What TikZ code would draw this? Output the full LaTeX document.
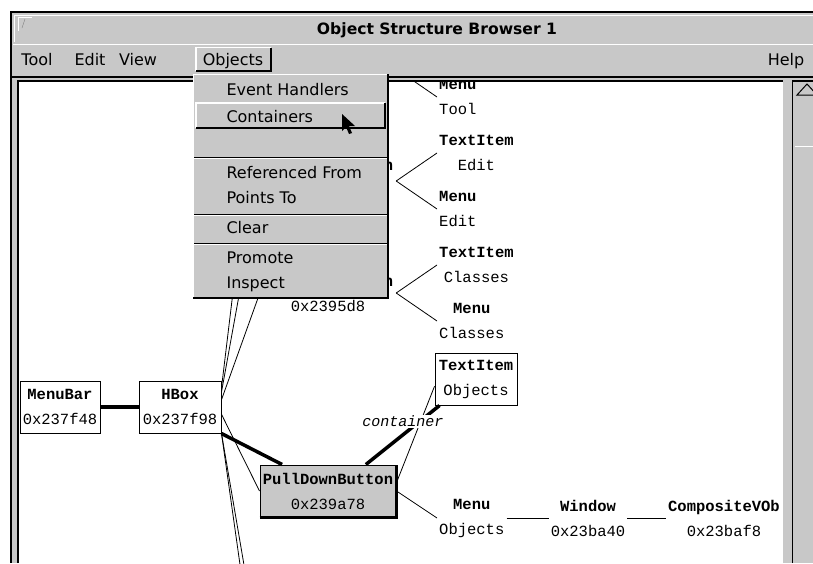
\documentclass[tikz,border=0pt]{standalone}
\usepackage{fontspec}
\setmonofont{Liberation Mono}
\newfontfamily\uifont{DejaVu Sans}
\usetikzlibrary{positioning}
\definecolor{motif}{RGB}{200,200,200}

\begin{document}
\begin{tikzpicture}[x=1pt, y=-1pt,
		obj/.style={align=center, inner xsep=2pt, inner ysep=1pt, font=\ttfamily\fontsize{15.5}{25}\selectfont},
		objbox/.style={obj, draw, fill=white, line width=1pt, minimum height=52pt},
		pdb/.style={obj, minimum width=136pt},
		uitext/.style={font=\uifont\fontsize{16}{19}\selectfont},
		baritem/.style={uitext, anchor=base},
		menuitem/.style={uitext, anchor=base west},
		etch/.style={line width=1pt},
		link/.style={line width=0.8pt},
		cont/.style={line width=3.5pt}]
	\useasboundingbox (0,0) rectangle (813,563);

	% window frame and title bar
	\fill[white] (0,0) rectangle (813,563);
	\fill[motif] (11,12) rectangle (813,563);
	\draw[line width=2pt] (11,563) -- (11,12) -- (813,12);
	\draw[white, etch] (14,42) -- (14,15) -- (813,15);
	\draw[white, etch] (18,31) -- (18,17) -- (32,17);
	\draw[gray] (22,28) -- (25,19);
	\node[uitext, font=\uifont\bfseries\fontsize{15.6}{19}\selectfont, anchor=base] (title) at (437,34) {Object Structure Browser 1};

	% menu bar
	\draw[white, etch] (13,44) -- (813,44);
	\node[baritem] (bartool) at (37,65) {Tool};
	\node[baritem] (baredit) at (90,65) {Edit};
	\node[baritem] (barview) at (138,65) {View};
	\node[baritem] (barobjects) at (233,65) {Objects};
	\node[baritem] (barhelp) at (786,65) {Help};
	\draw[white, line width=1.5pt] (196,71) -- (196,47.5) -- (271,47.5);
	\draw[line width=1.5pt] (196,71) -- (271,71) -- (271,47.5);
	\draw[line width=2pt] (12,77) -- (813,77);

	% canvas
	\fill[white] (19,82) rectangle (783,563);
	\begin{scope}
		\clip (19,82) rectangle (783,563);

		\node[objbox, minimum width=80pt] (menubar) at (60,407) {\textbf{MenuBar}\\0x237f48};
		\node[objbox, minimum width=82pt] (hbox) at (180,407) {\textbf{HBox}\\0x237f98};

		\node[pdb] (pdbtool) at (328,69) {\textbf{PullDownButton}\\\strut};
		\node[pdb] (pdbedit) at (328,181) {\textbf{PullDownButton}\\\strut};
		\node[pdb] (pdbclasses) at (328,293) {\textbf{PullDownButton}\\0x2395d8};
		\node[objbox, pdb, fill=motif] (pdbobjects) at (328,491) {\textbf{PullDownButton}\\0x239a78};
		\draw[line width=3pt] (pdbobjects.south west) -- (pdbobjects.south east) -- (pdbobjects.north east);

		\node[obj, anchor=west] (menutool) at (437,97) {\textbf{Menu}\\Tool};
		\node[obj, anchor=west] (textedit) at (437,153) {\textbf{TextItem}\\Edit};
		\node[obj, anchor=west] (menuedit) at (437,209) {\textbf{Menu}\\Edit};
		\node[obj, anchor=west] (textclasses) at (437,265) {\textbf{TextItem}\\Classes};
		\node[obj, anchor=west] (menuclasses) at (437,321) {\textbf{Menu}\\Classes};
		\node[objbox, minimum width=82pt] (textobjects) at (476,379) {\textbf{TextItem}\\Objects};
		\node[obj, anchor=west] (menuobjects) at (437,518) {\textbf{Menu}\\Objects};
		\node[obj] (window) at (588,518) {\textbf{Window}\\0x23ba40};
		\node[obj, anchor=east] (compvob) at (782,518) {\textbf{CompositeVOb}\\0x23baf8};

		\coordinate (below1) at (245,600);
		\coordinate (below2) at (250,600);

		% containers path
		\draw[cont] (menubar) -- (hbox);
		\draw[cont] (hbox.south east) -- (pdbobjects.150);
		\draw[cont] (pdbobjects.35) -- (textobjects.216);

		% other references
		\draw[link] (hbox.25) -- (pdbtool.west);
		\draw[link] (hbox.20) -- (pdbedit.west);
		\draw[link] (hbox.10) -- (pdbclasses.west);
		\draw[link] (hbox.-10) -- (pdbobjects.west);
		\draw[link] (hbox.south east) -- (below1);
		\draw[link] (hbox.south east) -- (below2);
		\draw[link] (pdbtool.east) -- (menutool.west);
		\draw[link] (pdbedit.east) -- (textedit.west);
		\draw[link] (pdbedit.east) -- (menuedit.west);
		\draw[link] (pdbclasses.east) -- (textclasses.west);
		\draw[link] (pdbclasses.east) -- (menuclasses.west);
		\draw[link] (pdbobjects.7) -- (textobjects.190);
		\draw[link] (pdbobjects.east) -- (menuobjects.west);
		\draw[link] (menuobjects) -- (window);
		\draw[link] (window) -- (compvob);

		\node[fill=white, inner sep=1pt, font=\ttfamily\itshape\fontsize{15}{18}\selectfont] (container) at (403,421) {container};
	\end{scope}
	\draw[line width=2pt] (18,563) -- (18,81) -- (783,81);

	% scroll bar
	\draw[line width=1.5pt] (792.5,563) -- (792.5,81) -- (813,81);
	\draw[etch] (797,95) -- (807,84) -- (817,95) -- cycle;
	\draw[white, etch] (795,146) -- (813,146);

	% Objects pull-down menu
	\fill[motif] (193,74) rectangle (388,299);
	\draw[white, line width=1.5pt] (193.5,299) -- (193.5,74.5) -- (388,74.5);
	\draw[line width=2pt] (193,298) -- (388,298) -- (388,74);
	\node[menuitem] (evhandlers) at (223,95) {Event Handlers};
	\draw[white, line width=1.5pt] (196,128) -- (196,103) -- (385,103);
	\draw[line width=2pt] (196,128) -- (385,128) -- (385,103);
	\node[menuitem] (containers) at (223,122) {Containers};
	\draw[etch] (194,157) -- (387,157);
	\draw[white, etch] (194,158) -- (387,158);
	\node[menuitem] (reffrom) at (223,178) {Referenced From};
	\node[menuitem] (pointsto) at (223,203) {Points To};
	\draw[etch] (194,214) -- (387,214);
	\draw[white, etch] (194,215) -- (387,215);
	\node[menuitem] (clear) at (223,233) {Clear};
	\draw[etch] (194,243) -- (387,243);
	\draw[white, etch] (194,244) -- (387,244);
	\node[menuitem] (promote) at (223,263) {Promote};
	\node[menuitem] (inspect) at (223,288) {Inspect};

	% mouse pointer
	\fill (342,114) -- ++(0,17) -- ++(4,-4) -- ++(3,7) -- ++(3,-1) -- ++(-3,-7) -- ++(6,0) -- cycle;
\end{tikzpicture}
\end{document}
